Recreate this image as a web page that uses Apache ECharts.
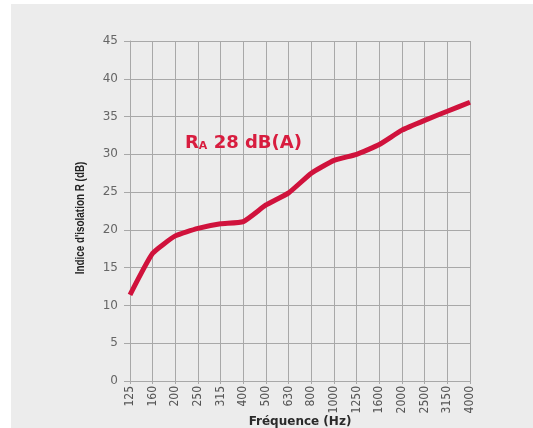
<!DOCTYPE html>
<html><head><meta charset="utf-8">
<script src="https://cdn.jsdelivr.net/npm/echarts@6/dist/echarts.min.js"></script>
<style>html,body{margin:0;padding:0;background:#fff}#c{width:533px;height:428px}</style>
</head><body><div id="c"></div>
<script>
const categories = ['125','160','200','250','315','400','500','630','800','1000','1250','1600','2000','2500','3150','4000'];
const isolation = [11.4, 16.9, 19.2, 20.2, 20.8, 21.1, 23.3, 24.9, 27.5, 29.2, 30.0, 31.3, 33.2, 34.5, 35.7, 36.9];
const yTicks = [0, 5, 10, 15, 20, 25, 30, 35, 40, 45];
const yAxisTitle = "Indice d'isolation R (dB)";
const xAxisTitle = 'Fréquence (Hz)';

const chart = echarts.init(document.getElementById('c'), null, {renderer: 'canvas'});
chart.setOption({
  backgroundColor: '#ffffff',
  animation: false,
  graphic: [
    {type: 'rect', shape: {x: 11, y: 4, width: 522, height: 424}, style: {fill: '#ececec'}, z: -10},
    {type: 'text', x: 80, y: 218, rotation: Math.PI / 2, scaleX: 0.76, z: 10,
     style: {text: yAxisTitle, fill: '#222', align: 'center', verticalAlign: 'middle',
       font: 'bold 13px "Liberation Sans", Arial, sans-serif'}},
    {type: 'text', left: 185, top: 134, z: 10,
     style: {text: '{b|R}{s|A}{b| 28 dB(A)}',
       rich: {
         b: {fill: '#d81d3f', font: 'bold 18px "DejaVu Sans", sans-serif'},
         s: {fill: '#d81d3f', font: 'bold 11px "DejaVu Sans", sans-serif', padding: [6, 0, 0, 0]}
       }}}
  ],
  grid: {left: 130, right: 63, top: 41, bottom: 47, containLabel: false, outerBoundsMode: 'none'},
  xAxis: {
    type: 'category', data: categories, boundaryGap: false,
    name: xAxisTitle, nameLocation: 'middle', nameGap: 35, nameMoveOverlap: false,
    nameTextStyle: {fontFamily: '"DejaVu Sans", sans-serif', fontWeight: 'bold', fontSize: 12, color: '#2a2a2a'},
    axisLine: {show: true, lineStyle: {color: '#a8a8a8', width: 1}},
    axisTick: {show: true, alignWithLabel: true, length: 3, lineStyle: {color: '#a8a8a8'}},
    axisLabel: {rotate: 90, interval: 0, margin: 5, fontSize: 12, color: '#555',
      fontFamily: '"Liberation Sans Narrow", "DejaVu Sans Condensed", sans-serif'},
    splitLine: {show: true, lineStyle: {color: '#a8a8a8', width: 1}}
  },
  yAxis: {
    type: 'value', min: yTicks[0], max: yTicks[yTicks.length - 1], interval: 5,
    axisLine: {show: true, lineStyle: {color: '#a8a8a8', width: 1}},
    axisTick: {show: true, length: 6, lineStyle: {color: '#a8a8a8'}},
    axisLabel: {margin: 12, fontSize: 12, color: '#666', fontFamily: '"DejaVu Sans", sans-serif'},
    splitLine: {show: true, lineStyle: {color: '#a8a8a8', width: 1}}
  },
  series: [{
    type: 'line', data: isolation, smooth: 0.15, symbol: 'none',
    lineStyle: {color: '#d0123c', width: 5}
  }]
});
</script></body></html>
